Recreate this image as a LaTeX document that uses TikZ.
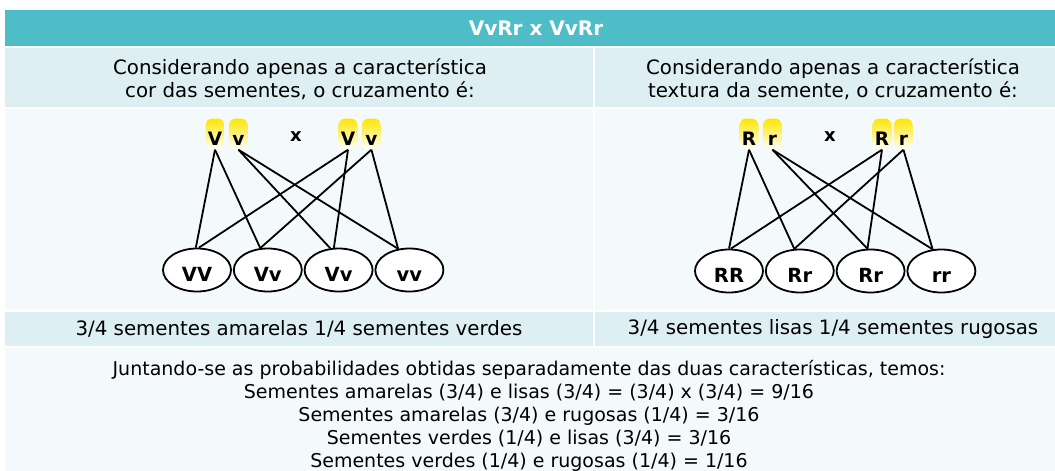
\documentclass[tikz,border=0pt]{standalone}
\usepackage{fontspec}
\setmainfont{DejaVu Sans}
\usepackage{xcolor}
\usepackage{tikz}
\usetikzlibrary{positioning,shapes.geometric}

\definecolor{headteal}{HTML}{4FBDC7}
\definecolor{rowblue}{HTML}{DDEFF3}
\definecolor{rowpale}{HTML}{F4FAFC}
\definecolor{gamyellow}{HTML}{FFE600}

\begin{document}
\begin{tikzpicture}[
  x=1pt, y=-1pt,
  node distance=1pt,
  txt/.style={align=center, font=\fontsize{19.8}{23}\selectfont},
  gamete/.style={rounded corners=7pt, top color=gamyellow, bottom color=white, minimum width=19pt, minimum height=31pt, inner sep=0pt, text height=26pt, text depth=3pt, font=\bfseries\fontsize{18.5}{18}\selectfont},
  cross/.style={font=\bfseries\fontsize{18}{18}\selectfont},
  geno/.style={draw, ellipse, line width=1.8pt, fill=white, minimum width=68pt, minimum height=43pt, inner sep=0pt, text height=22pt, text depth=0pt, font=\bfseries\fontsize{19.5}{19}\selectfont},
  link/.style={line width=1.8pt}
]
\useasboundingbox (0,0) rectangle (1055,471);
% table rows
\fill[white] (0,0) rectangle (1055,471);
\fill[headteal] (5,10) rectangle (1055,46);
\fill[rowblue] (5,48) rectangle (593,107);
\fill[rowblue] (595,48) rectangle (1055,107);
\fill[rowpale] (5,109) rectangle (593,310);
\fill[rowpale] (595,109) rectangle (1055,310);
\fill[rowblue] (5,312) rectangle (593,346);
\fill[rowblue] (595,312) rectangle (1055,346);
\fill[rowpale] (5,348) rectangle (1055,471);

\node[txt, text=white, font=\bfseries\fontsize{20}{23}\selectfont] (title) at (536,28) {VvRr x VvRr};
\node[txt] (headl) at (300,79) {Considerando apenas a característica\\cor das sementes, o cruzamento é:};
\node[txt] (headr) at (833,79) {Considerando apenas a característica\\textura da semente, o cruzamento é:};

% cor das sementes
\node[gamete] (V1) at (215,134) {V};
\node[gamete, right=4pt of V1] (v1) {v};
\node[cross] (xl) at (296,137) {x};
\node[gamete] (V2) at (348,134) {V};
\node[gamete, right=4pt of V2] (v2) {v};

\node[geno] (VV) at (197,270) {VV};
\node[geno, right=of VV] (Vv1) {Vv};
\node[geno, right=of Vv1] (Vv2) {Vv};
\node[geno, right=of Vv2] (vv) {vv};

\draw[link] (V1.south) -- (VV.93);
\draw[link] (V1.south) -- (Vv1.109);
\draw[link] (v1.south) -- (Vv2.111);
\draw[link] (v1.south) -- (vv.118);
\draw[link] (V2.south) -- (VV.85);
\draw[link] (V2.south) -- (Vv2.102);
\draw[link] (v2.south) -- (Vv1.109);
\draw[link] (v2.south) -- (vv.118);

% textura da semente
\node[gamete] (R1) at (749,134) {R};
\node[gamete, right=4pt of R1] (r1) {r};
\node[cross] (xr) at (830,137) {x};
\node[gamete] (R2) at (882,134) {R};
\node[gamete, right=2pt of R2] (r2) {r};

\node[geno] (RR) at (729,271) {RR};
\node[geno, right=of RR] (Rr1) {Rr};
\node[geno, right=of Rr1] (Rr2) {Rr};
\node[geno, right=of Rr2] (rr) {rr};

\draw[link] (R1.south) -- (RR.90);
\draw[link] (R1.south) -- (Rr1.104);
\draw[link] (r1.south) -- (Rr2.98);
\draw[link] (r1.south) -- (rr.112);
\draw[link] (R2.south) -- (RR.85);
\draw[link] (R2.south) -- (Rr2.98);
\draw[link] (r2.south) -- (Rr1.104);
\draw[link] (r2.south) -- (rr.112);

\node[txt] (resl) at (299,329) {3/4 sementes amarelas 1/4 sementes verdes};
\node[txt] (resr) at (833,329) {3/4 sementes lisas 1/4 sementes rugosas};

\node[txt, font=\fontsize{19}{23}\selectfont] (sum) at (529,416) {Juntando-se as probabilidades obtidas separadamente das duas características, temos:\\
Sementes amarelas (3/4) e lisas (3/4) = (3/4) x (3/4) = 9/16\\
Sementes amarelas (3/4) e rugosas (1/4) = 3/16\\
Sementes verdes (1/4) e lisas (3/4) = 3/16\\
Sementes verdes (1/4) e rugosas (1/4) = 1/16};
\end{tikzpicture}
\end{document}
